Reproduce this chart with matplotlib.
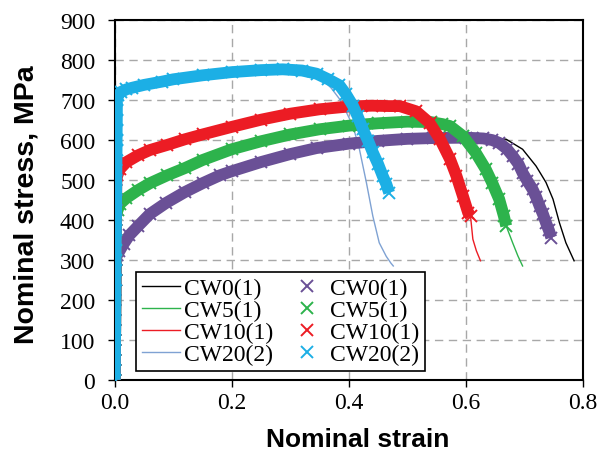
import numpy as np
import matplotlib.pyplot as plt
from matplotlib.ticker import FormatStrFormatter

# solid lines (simulation / fitted curves)
cw0_line_strain = [0, 0.0016, 0.004, 0.01, 0.03, 0.06, 0.1, 0.15, 0.2, 0.3, 0.4, 0.5, 0.6, 0.646,
                   0.669, 0.697, 0.72, 0.737, 0.749, 0.76, 0.771, 0.785]
cw0_line_stress = [0, 300, 312, 328, 370, 415, 450, 492, 522, 565, 591, 603, 606, 606,
                   602, 577, 535, 494, 452, 393, 343, 298]
cw5_line_strain = [0, 0.0022, 0.005, 0.02, 0.06, 0.12, 0.2, 0.3, 0.4, 0.5, 0.56, 0.595, 0.634,
                   0.657, 0.669, 0.68, 0.689, 0.697]
cw5_line_stress = [0, 415, 422, 455, 492, 530, 577, 614, 636, 646, 640, 610, 527,
                   452, 385, 343, 310, 285]
cw10_line_strain = [0, 0.0027, 0.006, 0.02, 0.06, 0.12, 0.2, 0.3, 0.4, 0.44, 0.487, 0.515, 0.538,
                    0.556, 0.573, 0.595, 0.608, 0.612, 0.618, 0.625]
cw10_line_stress = [0, 500, 515, 545, 575, 602, 633, 666, 684, 686, 685, 672, 643,
                    602, 552, 460, 410, 352, 323, 298]
cw20_line_strain = [0, 0.0037, 0.006, 0.01, 0.03, 0.08, 0.15, 0.2, 0.25, 0.287, 0.32, 0.345,
                    0.356, 0.37, 0.384, 0.395, 0.407, 0.418, 0.43, 0.441, 0.452, 0.464,
                    0.472, 0.476]
cw20_line_stress = [0, 700, 712, 720, 731, 746, 762, 770, 775, 777, 774, 762,
                    750, 730, 703, 672, 636, 578, 494, 410, 343, 309, 292, 285]

# cross symbols (experimental points)
cw0_pts_strain = [0, 0.0001, 0.0003, 0.0004, 0.0005, 0.0007, 0.0008, 0.0009, 0.0011, 0.0012,
                  0.0013, 0.0015, 0.0016, 0.004, 0.008, 0.015, 0.025, 0.04, 0.06, 0.088, 0.12,
                  0.15, 0.18, 0.2, 0.25, 0.3, 0.345, 0.4, 0.45, 0.5, 0.544, 0.6, 0.63, 0.645,
                  0.657, 0.67, 0.68, 0.69, 0.697, 0.705, 0.714, 0.72, 0.726, 0.732, 0.737,
                  0.742, 0.746]
cw0_pts_stress = [0, 25, 50, 75, 100, 125, 150, 175, 200, 225,
                  250, 275, 300, 312, 322, 340, 362, 385, 415, 443, 470,
                  492, 512, 522, 545, 565, 580, 591, 598, 603, 605, 606, 604, 600,
                  593, 578, 560, 540, 518, 498, 477, 458, 435, 414, 393,
                  374, 356]
cw5_pts_strain = [0, 0.0001, 0.0003, 0.0004, 0.0005, 0.0007, 0.0008, 0.0009, 0.0011, 0.0012,
                  0.0013, 0.0015, 0.0016, 0.0017, 0.0019, 0.002, 0.0021, 0.0022, 0.005, 0.0085,
                  0.02, 0.04, 0.06, 0.09, 0.12, 0.15, 0.2, 0.25, 0.3, 0.35, 0.4, 0.45, 0.5,
                  0.54, 0.56, 0.573, 0.595, 0.617, 0.634, 0.645, 0.657, 0.665, 0.669]
cw5_pts_stress = [0, 25, 50, 75, 100, 125, 150, 175, 200, 225,
                  250, 275, 300, 325, 350, 375, 400, 415, 425, 440,
                  455, 475, 492, 512, 530, 550, 577, 597, 614, 627, 636, 642, 646,
                  645, 640, 635, 610, 568, 527, 493, 452, 410, 385]
cw10_pts_strain = [0, 0.0001, 0.0003, 0.0004, 0.0005, 0.0007, 0.0008, 0.0009, 0.0011, 0.0012,
                   0.0013, 0.0015, 0.0016, 0.0017, 0.0019, 0.002, 0.0021, 0.0023, 0.0024,
                   0.0025, 0.0027, 0.0045, 0.0085, 0.02, 0.04, 0.06, 0.09, 0.12, 0.15, 0.2,
                   0.25, 0.3, 0.35, 0.4, 0.44, 0.47, 0.487, 0.515, 0.538, 0.556, 0.573,
                   0.584, 0.595, 0.604, 0.608]
cw10_pts_stress = [0, 25, 50, 75, 100, 125, 150, 175, 200, 225,
                   250, 275, 300, 325, 350, 375, 400, 425, 450,
                   475, 500, 512, 527, 545, 562, 575, 588, 602, 614, 633,
                   651, 666, 677, 684, 686, 685, 685, 672, 643, 602, 552,
                   510, 460, 418, 410]
cw20_pts_strain = [0, 0.0001, 0.0003, 0.0004, 0.0005, 0.0007, 0.0008, 0.0009, 0.0011, 0.0012,
                   0.0013, 0.0015, 0.0016, 0.0017, 0.0019, 0.002, 0.0021, 0.0023, 0.0024,
                   0.0025, 0.0027, 0.0028, 0.0029, 0.0031, 0.0032, 0.0033, 0.0035, 0.0036,
                   0.0037, 0.006, 0.01, 0.02, 0.03, 0.05, 0.08, 0.1, 0.15, 0.2, 0.25, 0.287,
                   0.32, 0.345, 0.365, 0.384, 0.395, 0.407, 0.415, 0.424, 0.433, 0.441,
                   0.45, 0.458, 0.464, 0.469]
cw20_pts_stress = [0, 25, 50, 75, 100, 125, 150, 175, 200, 225,
                   250, 275, 300, 325, 350, 375, 400, 425, 450,
                   475, 500, 525, 550, 575, 600, 625, 650, 675,
                   700, 712, 720, 727, 731, 738, 746, 752, 762, 770, 775, 777,
                   774, 766, 752, 737, 715, 686, 660, 627, 598, 569,
                   540, 510, 490, 468]

labels = ['CW0(1)', 'CW5(1)', 'CW10(1)', 'CW20(2)']
line_colors = ['#000000', '#2db34c', '#ec1c24', '#7fa2d3']
pts_colors = ['#6a5096', '#2db34c', '#ec1c24', '#1cafe5']

line_x = [cw0_line_strain, cw5_line_strain, cw10_line_strain, cw20_line_strain]
line_y = [cw0_line_stress, cw5_line_stress, cw10_line_stress, cw20_line_stress]
pts_x = [cw0_pts_strain, cw5_pts_strain, cw10_pts_strain, cw20_pts_strain]
pts_y = [cw0_pts_stress, cw5_pts_stress, cw10_pts_stress, cw20_pts_stress]

fig = plt.figure(figsize=(6.04, 4.6), dpi=100)
ax = fig.add_axes([0.190, 0.172, 0.775, 0.782])

line_handles = []
for i in range(4):
    h, = ax.plot(line_x[i], line_y[i], color=line_colors[i], lw=1.0, zorder=2, label=labels[i])
    line_handles.append(h)

pts_handles = []
for i in range(4):
    # dense band of crosses
    ax.plot(pts_x[i], pts_y[i], color=pts_colors[i], lw=8.5, solid_capstyle='butt', zorder=3 + i)
    h, = ax.plot(pts_x[i], pts_y[i], linestyle='none', marker='x', ms=8, mew=1.4,
                 color=pts_colors[i], zorder=3 + i, label=labels[i])
    pts_handles.append(h)

ax.set_xlim(0, 0.8)
ax.set_ylim(0, 900)
ax.set_xticks(np.arange(0, 0.81, 0.2))
ax.set_yticks(np.arange(0, 901, 100))
ax.xaxis.set_major_formatter(FormatStrFormatter('%.1f'))
ax.grid(True, color='#a8a8a8', linestyle=(0, (6, 4)), linewidth=1.0)
ax.set_axisbelow(True)
for s in ax.spines.values():
    s.set_linewidth(1.5)
ax.tick_params(direction='out', length=5, width=1, labelsize=17)
ax.tick_params(axis='y', pad=9)
ax.tick_params(axis='x', pad=4)
for t in ax.get_xticklabels() + ax.get_yticklabels():
    t.set_family('Liberation Serif')

ax.set_xlabel('Nominal strain', fontsize=19, fontweight='bold', family='Liberation Sans', va='top')
ax.set_ylabel('Nominal stress, MPa', fontsize=20.5, fontweight='bold', family='Liberation Sans',
              va='center')
ax.xaxis.set_label_coords(0.52, -0.13)
ax.yaxis.set_label_coords(-0.188, 0.49)

leg = ax.legend(line_handles + pts_handles, labels + labels, ncol=2, loc='lower left',
                bbox_to_anchor=(0.045, 0.024), borderaxespad=0, fancybox=False,
                edgecolor='black', framealpha=1, handlelength=1.6, handletextpad=0.2,
                columnspacing=0.6, labelspacing=0.02, borderpad=0.25,
                prop={'family': 'Liberation Serif', 'size': 17})
leg.get_frame().set_linewidth(1.2)
leg.set_zorder(10)

fig.savefig('out.png', dpi=100)
